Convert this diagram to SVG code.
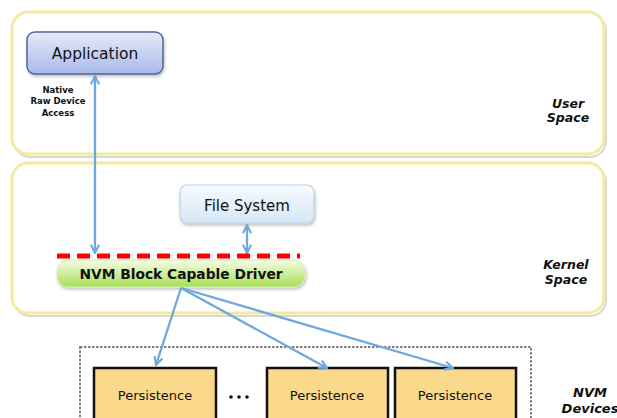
<svg xmlns="http://www.w3.org/2000/svg" width="617" height="418" viewBox="0 0 617 418">
  <style>
    .space { fill: #ffffff; stroke: #f2ea9e; stroke-width: 3; }
    .space-shadow { fill: none; stroke: #d8d8d8; stroke-width: 2; }
    .lbl { font-family: "DejaVu Sans", Verdana, sans-serif; fill: #111; }
    .region { font-size: 12.5px; font-weight: bold; font-style: italic; text-anchor: middle; }
    .conn { stroke: #6fa8dc; stroke-width: 2.3; fill: none; }
    .pers { fill: #fbd98c; stroke: #111; stroke-width: 2.5; }
  </style>
  <defs>
    <linearGradient id="gApp" x1="0" y1="0" x2="0" y2="1">
      <stop offset="0" stop-color="#e6ecfb"/>
      <stop offset="1" stop-color="#a8b8ea"/>
    </linearGradient>
    <linearGradient id="gFs" x1="0" y1="0" x2="0" y2="1">
      <stop offset="0" stop-color="#f6fafe"/>
      <stop offset="1" stop-color="#d6e7f5"/>
    </linearGradient>
    <linearGradient id="gDrv" x1="0" y1="0" x2="0" y2="1">
      <stop offset="0" stop-color="#f6fde6"/>
      <stop offset="1" stop-color="#a6df55"/>
    </linearGradient>
    <filter id="shadow" x="-10%" y="-10%" width="125%" height="140%">
      <feDropShadow dx="1" dy="2" stdDeviation="1.5" flood-color="#000" flood-opacity="0.25"/>
    </filter>
    <marker id="arrow" viewBox="0 0 10 10" refX="9" refY="5" markerWidth="4.5" markerHeight="4.5" orient="auto-start-reverse">
      <path d="M1,1 L9,5 L1,9" fill="none" stroke="#6fa8dc" stroke-width="2"/>
    </marker>
  </defs>

  <!-- address space regions -->
  <g id="user-space">
    <rect x="13" y="13" width="592" height="142" rx="16" class="space-shadow" transform="translate(1,2)"/>
    <rect x="12" y="12" width="592" height="142" rx="16" class="space"/>
    <text class="lbl region" x="568" y="108">User</text>
    <text class="lbl region" x="568" y="122">Space</text>
  </g>
  <g id="kernel-space">
    <rect x="13" y="164" width="592" height="150" rx="16" class="space-shadow" transform="translate(1,2)"/>
    <rect x="12" y="163" width="592" height="150" rx="16" class="space"/>
    <text class="lbl region" x="566" y="269">Kernel</text>
    <text class="lbl region" x="566" y="284">Space</text>
  </g>

  <!-- NVM device enclosure -->
  <g id="nvm-devices">
    <rect x="80" y="347" width="451" height="90" fill="none" stroke="#555" stroke-width="1.5" stroke-dasharray="2.5,1.5"/>
    <text class="lbl" x="590" y="397" font-size="13" font-weight="bold" font-style="italic" text-anchor="middle">NVM</text>
    <text class="lbl" x="590" y="413" font-size="13" font-weight="bold" font-style="italic" text-anchor="middle">Devices</text>
  </g>

  <g id="application">
    <rect x="27" y="32" width="136" height="42" rx="8" fill="url(#gApp)" stroke="#56658f" stroke-width="1.5" filter="url(#shadow)"/>
    <text class="lbl" x="95" y="59" font-size="15.5" text-anchor="middle">Application</text>
  </g>

  <g id="raw-access-label">
    <text class="lbl" x="58" y="93" font-size="8.5" font-weight="bold" text-anchor="middle">Native</text>
    <text class="lbl" x="58" y="104" font-size="8.5" font-weight="bold" text-anchor="middle">Raw Device</text>
    <text class="lbl" x="58" y="116" font-size="8.5" font-weight="bold" text-anchor="middle">Access</text>
  </g>

  <g id="file-system">
    <rect x="180" y="185" width="134" height="38" rx="7" fill="url(#gFs)" stroke="#bcd2e4" stroke-width="1.2" filter="url(#shadow)"/>
    <text class="lbl" x="247" y="211" font-size="15" text-anchor="middle">File System</text>
  </g>

  <g id="driver">
    <rect x="57" y="260" width="248" height="27" rx="11" fill="url(#gDrv)" stroke="#d7ecb6" stroke-width="1" filter="url(#shadow)"/>
    <text class="lbl" x="181" y="279" font-size="13.8" font-weight="bold" text-anchor="middle">NVM Block Capable Driver</text>
  </g>

  <g id="persistence-1">
    <rect x="94" y="368" width="122" height="60" class="pers"/>
    <text class="lbl" x="155" y="400" font-size="13" text-anchor="middle">Persistence</text>
  </g>
  <g id="ellipsis">
    <circle cx="231" cy="397" r="1.8" fill="#111"/>
    <circle cx="239" cy="397" r="1.8" fill="#111"/>
    <circle cx="247" cy="397" r="1.8" fill="#111"/>
  </g>
  <g id="persistence-2">
    <rect x="267" y="368" width="121" height="60" class="pers"/>
    <text class="lbl" x="327" y="400" font-size="13" text-anchor="middle">Persistence</text>
  </g>
  <g id="persistence-3">
    <rect x="395" y="368" width="121" height="60" class="pers"/>
    <text class="lbl" x="455" y="400" font-size="13" text-anchor="middle">Persistence</text>
  </g>

  <g id="connectors">
    <line class="conn" x1="95" y1="76" x2="95" y2="253" marker-start="url(#arrow)" marker-end="url(#arrow)"/>
    <line class="conn" x1="247" y1="225" x2="247" y2="253" marker-start="url(#arrow)" marker-end="url(#arrow)"/>
    <line class="conn" x1="181" y1="288" x2="156" y2="365" marker-end="url(#arrow)"/>
    <line class="conn" x1="181" y1="288" x2="327" y2="368" marker-end="url(#arrow)"/>
    <line class="conn" x1="181" y1="288" x2="453" y2="368" marker-end="url(#arrow)"/>
    <!-- driver boundary -->
    <line x1="57" y1="256" x2="300" y2="256" stroke="#ff0000" stroke-width="5" stroke-dasharray="13,7"/>
  </g>
</svg>
